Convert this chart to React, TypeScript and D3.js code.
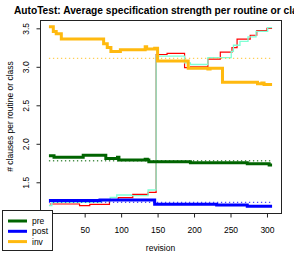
import { useEffect, useRef } from "react";
import * as d3 from "d3";

// Step series as [revision, clauses] change points
const pre: [number, number][] = [
  [1, 1.846], [8, 1.825], [48, 1.85], [79, 1.81], [95, 1.825], [97, 1.79],
  [133, 1.8], [136, 1.79], [138, 1.768], [195, 1.755], [273, 1.74], [303, 1.725], [307, 1.725],
];
const post: [number, number][] = [
  [1, 1.262], [71, 1.27], [146, 1.214], [231, 1.205], [273, 1.19], [307, 1.19],
];
const inv: [number, number][] = [
  [1, 3.52], [7, 3.46], [11, 3.43], [18, 3.36], [76, 3.3], [81, 3.25], [86, 3.2],
  [99, 3.22], [133, 3.26], [135, 3.23], [146, 3.24], [150, 3.075], [192, 2.98],
  [219, 2.97], [222, 2.98], [239, 2.8], [287, 2.78], [293, 2.79], [296, 2.77], [307, 2.77],
];
const red: [number, number][] = [
  [2, 1.218], [43, 1.196], [57, 1.214], [84, 1.27], [96, 1.3], [116, 1.344], [137, 1.37],
  [148, 3.16], [163, 3.175], [187, 2.99], [195, 3.0], [219, 3.1], [236, 3.19],
  [252, 3.25], [259, 3.36], [277, 3.41], [286, 3.47], [300, 3.5], [307, 3.5],
];
const aqua: [number, number][] = [
  [1, 1.196], [5, 1.24], [72, 1.26], [85, 1.305], [94, 1.335], [114, 1.326], [137, 1.4],
  [148, 3.153], [150, 3.14], [187, 3.05], [195, 3.03], [219, 3.12], [251, 3.2],
  [254, 3.28], [263, 3.33], [274, 3.39], [285, 3.46], [301, 3.51], [307, 3.51],
];

// overall averages (dotted)
const preMean = 1.78;
const postMean = 1.24;
const invMean = 3.11;

const xTicks = [50, 100, 150, 200, 250, 300];
const yTicks = [1.5, 2.0, 2.5, 3.0, 3.5];
const legendLabels = ["pre", "post", "inv"];

const GREEN = "#006400";
const BLUE = "#0000ff";
const ORANGE = "#ffb90f";
const FONT = "'Liberation Sans', Arial, sans-serif";

export default function App() {
  const svgRef = useRef<SVGSVGElement>(null);

  useEffect(() => {
    if (!svgRef.current) return;
    const svg = d3.select(svgRef.current);
    svg.selectAll("*").remove();

    const left = 40, right = 281, top = 20, bottom = 213;

    const x = d3.scaleLinear().domain([-11.24, 319.24]).range([left, right]);
    const y = d3.scaleLinear().domain([1.101, 3.608]).range([bottom, top]);

    const step = d3
      .line<[number, number]>()
      .x((d) => x(d[0]))
      .y((d) => y(d[1]))
      .curve(d3.curveStepAfter);

    const flat = (m: number): [number, number][] => [[1, m], [307, m]];

    const g = svg.append("g").attr("font-family", FONT);

    // thin comparison lines
    g.append("path").datum(red).attr("fill", "none").attr("stroke", "red").attr("stroke-width", 1.2).attr("d", step);
    g.append("path").datum(aqua).attr("fill", "none").attr("stroke", "#7fffd4").attr("stroke-width", 1.3).attr("d", step);

    // main series
    [
      { data: pre, color: GREEN },
      { data: post, color: BLUE },
      { data: inv, color: ORANGE },
    ].forEach((s) => {
      g.append("path")
        .datum(s.data)
        .attr("fill", "none")
        .attr("stroke", s.color)
        .attr("stroke-width", 3)
        .attr("d", step);
    });

    // averages
    [
      { m: preMean, color: GREEN },
      { m: postMean, color: BLUE },
      { m: invMean, color: ORANGE },
    ].forEach((s) => {
      g.append("path")
        .datum(flat(s.m))
        .attr("fill", "none")
        .attr("stroke", s.color)
        .attr("stroke-width", 1.3)
        .attr("stroke-dasharray", "1.3,2.7")
        .attr("opacity", 0.7)
        .attr("d", step);
    });

    // box
    g.append("rect")
      .attr("x", left + 0.5)
      .attr("y", top + 0.5)
      .attr("width", right - left)
      .attr("height", bottom - top)
      .attr("fill", "none")
      .attr("stroke", "#222")
      .attr("stroke-width", 1);

    // x axis
    const xa = g
      .append("g")
      .attr("transform", `translate(0,${bottom + 0.5})`)
      .call(d3.axisBottom(x).tickValues(xTicks).tickSize(4).tickPadding(9).tickFormat((d) => `${d}`));
    xa.select(".domain").remove();
    xa.selectAll("line").attr("stroke", "#222");
    xa.selectAll("text").attr("font-size", "8.5px").attr("font-family", FONT).attr("fill", "#000");

    // y axis
    const ya = g
      .append("g")
      .attr("transform", `translate(${left + 0.5},0)`)
      .call(d3.axisLeft(y).tickValues(yTicks).tickSize(4).tickFormat(d3.format(".1f")));
    ya.select(".domain").remove();
    ya.selectAll("line").attr("stroke", "#222");
    ya.selectAll("text")
      .attr("x", null)
      .attr("dy", null)
      .attr("text-anchor", "middle")
      .attr("transform", "translate(-12,0) rotate(-90)")
      .attr("font-size", "8.5px")
      .attr("font-family", FONT)
      .attr("fill", "#000");

    // labels
    g.append("text")
      .attr("x", (left + right) / 2 + 1)
      .attr("y", 14)
      .attr("text-anchor", "middle")
      .attr("font-size", "10.2px")
      .attr("font-weight", "bold")
      .text("AutoTest: Average specification strength per routine or class");

    g.append("text")
      .attr("x", (left + right) / 2)
      .attr("y", 251)
      .attr("text-anchor", "middle")
      .attr("font-size", "8.5px")
      .text("revision");

    g.append("text")
      .attr("transform", `translate(13,${(top + bottom) / 2}) rotate(-90)`)
      .attr("text-anchor", "middle")
      .attr("font-size", "8.5px")
      .text("# clauses per routine or class");

    // legend
    const lg = g.append("g");
    lg.append("rect")
      .attr("x", 2.5)
      .attr("y", 210.5)
      .attr("width", 50)
      .attr("height", 40)
      .attr("fill", "white")
      .attr("stroke", "#222");
    [GREEN, BLUE, ORANGE].forEach((c, i) => {
      const ly = 221 + i * 10.3;
      lg.append("line").attr("x1", 8).attr("x2", 27).attr("y1", ly).attr("y2", ly).attr("stroke", c).attr("stroke-width", 3);
      lg.append("text")
        .attr("x", 32)
        .attr("y", ly + 3)
        .attr("font-size", "8.5px")
        .text(legendLabels[i]);
    });
  }, []);

  return (
    <svg
      ref={svgRef}
      width={294}
      height={254}
      style={{ position: "fixed", left: 0, top: 0, background: "white" }}
    />
  );
}
